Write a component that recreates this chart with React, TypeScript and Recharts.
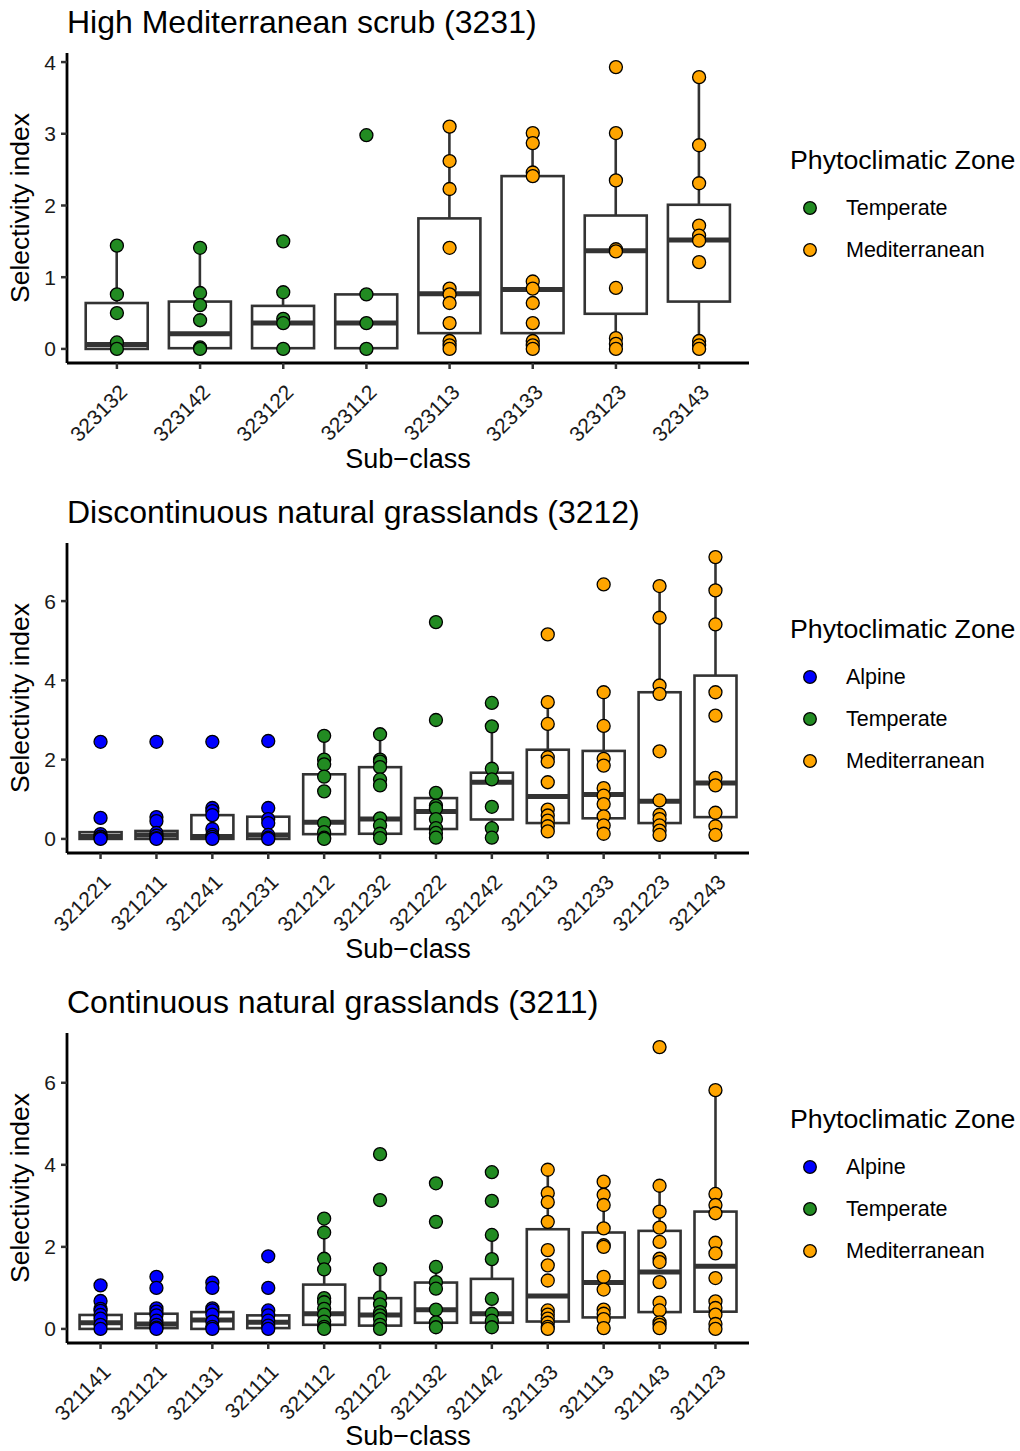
import React from 'react';
import { ComposedChart, Bar, Scatter, XAxis, YAxis, Legend } from 'recharts';

type Zone = 'Alpine' | 'Temperate' | 'Mediterranean';

const zoneColors: Record<Zone, string> = {
  Alpine: '#0000ff',
  Temperate: '#228b22',
  Mediterranean: '#ffa500',
};

// High Mediterranean scrub (3231)
const scrubClasses = ['323132', '323142', '323122', '323112', '323113', '323133', '323123', '323143'];
const scrubZones: Zone[] = ['Temperate', 'Temperate', 'Temperate', 'Temperate', 'Mediterranean', 'Mediterranean', 'Mediterranean', 'Mediterranean'];
const scrubLower = [0, 0, 0, 0, 0, 0, 0, 0];
const scrubQ1 = [0, 0.01, 0.01, 0.01, 0.22, 0.22, 0.49, 0.66];
const scrubMedian = [0.06, 0.21, 0.36, 0.36, 0.77, 0.83, 1.37, 1.52];
const scrubQ3 = [0.64, 0.66, 0.6, 0.76, 1.82, 2.41, 1.86, 2.01];
const scrubUpper = [1.44, 1.41, 0.79, 0.76, 3.1, 3.01, 3.01, 3.79];
const scrubValues: number[][] = [
  [1.44, 0.76, 0.5, 0.09, 0],
  [1.41, 0.78, 0.61, 0.4, 0.02, 0],
  [1.5, 0.79, 0.42, 0.36, 0],
  [2.98, 0.76, 0.36, 0],
  [3.1, 2.62, 2.23, 1.41, 0.84, 0.76, 0.64, 0.36, 0.11, 0.05, 0],
  [3.01, 2.87, 2.46, 2.41, 0.94, 0.84, 0.64, 0.36, 0.11, 0.05, 0],
  [3.93, 3.01, 2.35, 1.39, 1.36, 0.85, 0.15, 0.07, 0],
  [3.79, 2.84, 2.31, 1.72, 1.58, 1.51, 1.21, 0.11, 0.05, 0],
];

// Discontinuous natural grasslands (3212)
const discClasses = ['321221', '321211', '321241', '321231', '321212', '321232', '321222', '321242', '321213', '321233', '321223', '321243'];
const discZones: Zone[] = ['Alpine', 'Alpine', 'Alpine', 'Alpine', 'Temperate', 'Temperate', 'Temperate', 'Temperate', 'Mediterranean', 'Mediterranean', 'Mediterranean', 'Mediterranean'];
const discLower = [0, 0, 0, 0, 0, 0.02, 0.03, 0.03, 0.19, 0.13, 0.1, 0.1];
const discQ1 = [0, 0, 0, 0, 0.12, 0.13, 0.25, 0.49, 0.4, 0.52, 0.4, 0.55];
const discMedian = [0.06, 0.1, 0.06, 0.1, 0.42, 0.5, 0.69, 1.43, 1.07, 1.12, 0.95, 1.41];
const discQ3 = [0.17, 0.2, 0.6, 0.56, 1.63, 1.81, 1.03, 1.67, 2.25, 2.22, 3.7, 4.12];
const discUpper = [0.17, 0.45, 0.78, 0.78, 2.6, 2.64, 1.16, 2.84, 3.45, 3.7, 6.38, 7.11];
const discValues: number[][] = [
  [2.45, 0.53, 0.12, 0.06, 0.02, 0],
  [2.45, 0.55, 0.45, 0.15, 0.08, 0.02, 0],
  [2.45, 0.78, 0.7, 0.6, 0.25, 0.1, 0.05, 0],
  [2.47, 0.78, 0.5, 0.4, 0.1, 0.03, 0],
  [2.6, 2.0, 1.88, 1.57, 1.2, 0.4, 0.17, 0.03, 0],
  [2.64, 2.0, 1.95, 1.81, 1.5, 1.35, 0.52, 0.34, 0.13, 0.02],
  [5.47, 3.0, 1.16, 0.84, 0.77, 0.5, 0.27, 0.15, 0.03],
  [3.43, 2.84, 1.77, 1.5, 0.81, 0.27, 0.03],
  [5.16, 3.45, 2.9, 2.06, 1.95, 1.43, 0.74, 0.59, 0.46, 0.32, 0.19],
  [6.42, 3.7, 2.85, 2.02, 1.85, 1.28, 1.09, 0.88, 0.57, 0.34, 0.13],
  [6.38, 5.58, 3.87, 3.66, 2.21, 0.97, 0.61, 0.5, 0.34, 0.21, 0.1],
  [7.11, 6.27, 5.41, 3.7, 3.11, 1.54, 1.35, 0.66, 0.32, 0.1],
];

// Continuous natural grasslands (3211)
const contClasses = ['321141', '321121', '321131', '321111', '321112', '321122', '321132', '321142', '321133', '321113', '321143', '321123'];
const contZones: Zone[] = discZones;
const contLower = [0, 0, 0, 0, 0, 0, 0.04, 0.04, 0, 0.02, 0.02, 0];
const contQ1 = [0, 0.02, 0, 0.02, 0.1, 0.08, 0.15, 0.15, 0.18, 0.28, 0.41, 0.42];
const contMedian = [0.15, 0.12, 0.22, 0.16, 0.37, 0.34, 0.47, 0.37, 0.8, 1.13, 1.39, 1.53];
const contQ3 = [0.34, 0.37, 0.41, 0.33, 1.08, 0.75, 1.13, 1.22, 2.43, 2.35, 2.39, 2.86];
const contUpper = [0.68, 0.5, 0.5, 0.45, 2.35, 1.45, 1.51, 2.29, 3.88, 3.59, 3.49, 5.82];
const contValues: number[][] = [
  [1.06, 0.68, 0.49, 0.44, 0.34, 0.25, 0.1, 0],
  [1.27, 1.0, 0.5, 0.42, 0.33, 0.2, 0.1, 0.03, 0],
  [1.13, 1.0, 0.5, 0.45, 0.35, 0.18, 0.05, 0],
  [1.77, 1.0, 0.45, 0.33, 0.2, 0.08, 0],
  [2.69, 2.35, 1.71, 1.45, 0.75, 0.65, 0.49, 0.35, 0.18, 0.05, 0],
  [4.26, 3.14, 1.45, 0.77, 0.6, 0.41, 0.33, 0.24, 0.1, 0],
  [3.55, 2.61, 1.51, 1.14, 0.98, 0.47, 0.16, 0.04],
  [3.82, 3.12, 2.29, 1.7, 0.73, 0.37, 0.2, 0.04],
  [3.88, 3.31, 3.09, 2.61, 1.92, 1.55, 1.18, 0.45, 0.35, 0.25, 0.15, 0.05, 0],
  [3.59, 3.27, 3.02, 2.45, 2.04, 2.0, 1.27, 0.96, 0.47, 0.37, 0.24, 0.02],
  [6.87, 3.49, 2.86, 2.47, 2.12, 1.71, 1.63, 1.14, 0.64, 0.45, 0.16, 0.1, 0.02],
  [5.82, 3.29, 3.02, 2.82, 2.1, 1.84, 1.24, 0.67, 0.51, 0.35, 0.12, 0],
];

const FONT = "'Liberation Sans', Arial, Helvetica, sans-serif";
const INK = '#333333';
const CHART_W = 1020;
const PAGE_H = 1451;
const PANEL_H = 490;
const PLOT_LEFT = 67;
const PLOT_RIGHT = 749;
const PLOT_TOP = 53;
const PLOT_H = 310;

interface Panel {
  title: string;
  classes: string[];
  zones: Zone[];
  lower: number[];
  q1: number[];
  median: number[];
  q3: number[];
  upper: number[];
  values: number[][];
  ticks: number[];
}

const panels: Panel[] = [
  {
    title: 'High Mediterranean scrub (3231)',
    classes: scrubClasses, zones: scrubZones,
    lower: scrubLower, q1: scrubQ1, median: scrubMedian, q3: scrubQ3, upper: scrubUpper,
    values: scrubValues, ticks: [0, 1, 2, 3, 4],
  },
  {
    title: 'Discontinuous natural grasslands (3212)',
    classes: discClasses, zones: discZones,
    lower: discLower, q1: discQ1, median: discMedian, q3: discQ3, upper: discUpper,
    values: discValues, ticks: [0, 2, 4, 6],
  },
  {
    title: 'Continuous natural grasslands (3211)',
    classes: contClasses, zones: contZones,
    lower: contLower, q1: contQ1, median: contMedian, q3: contQ3, upper: contUpper,
    values: contValues, ticks: [0, 2, 4, 6],
  },
];

// boxplot drawn on top of a [lower, upper] range bar; inner stats are placed on the same linear scale
const BoxShape = (props: any) => {
  const { x, y, width, height, payload } = props;
  if (!payload || !Number.isFinite(y) || !Number.isFinite(height)) return null;
  const top = Math.min(y, y + height);
  const bottom = Math.max(y, y + height);
  const span = payload.hi - payload.lo;
  const toY = (v: number) => (span > 0 ? bottom - ((v - payload.lo) / span) * (bottom - top) : bottom);
  const cx = x + width / 2;
  const yQ1 = toY(payload.q1);
  const yQ3 = toY(payload.q3);
  const yMed = toY(payload.med);
  return (
    <g>
      <line x1={cx} x2={cx} y1={top} y2={yQ3} stroke={INK} strokeWidth={2.6} />
      <line x1={cx} x2={cx} y1={yQ1} y2={bottom} stroke={INK} strokeWidth={2.6} />
      <rect x={x} y={yQ3} width={width} height={Math.max(yQ1 - yQ3, 0)} fill="#ffffff" stroke={INK} strokeWidth={2.6} />
      <line x1={x} x2={x + width} y1={yMed} y2={yMed} stroke={INK} strokeWidth={5} />
    </g>
  );
};

const PointShape = (props: any) => {
  const { cx, cy, payload } = props;
  if (!Number.isFinite(cx) || !Number.isFinite(cy)) return null;
  return <circle cx={cx} cy={cy} r={6.5} fill={zoneColors[payload.zone as Zone]} stroke="#000000" strokeWidth={1.3} />;
};

const XTick = (props: any) => {
  const { x, y, payload } = props;
  const ax = x + 1;
  const ay = y + 12;
  return (
    <text x={ax} y={ay} dy="0.71em" textAnchor="end" transform={`rotate(-45 ${ax} ${ay})`} fontSize={21} fill="#1a1a1a" fontFamily={FONT}>
      {payload.value}
    </text>
  );
};

const makeXTitle = (gap: number) => (props: any) => {
  const vb = props.viewBox || { x: PLOT_LEFT, y: PLOT_TOP + PLOT_H, width: PLOT_RIGHT - PLOT_LEFT };
  return (
    <text x={vb.x + vb.width / 2} y={vb.y + gap} textAnchor="middle" fontSize={27} fill="#000000" fontFamily={FONT}>
      Sub−class
    </text>
  );
};

const YTitle = (props: any) => {
  const vb = props.viewBox || { y: PLOT_TOP, height: PLOT_H };
  const cy = vb.y + vb.height / 2;
  const bx = 29;
  return (
    <text x={bx} y={cy} textAnchor="middle" transform={`rotate(-90 ${bx} ${cy})`} fontSize={26.5} fill="#000000" fontFamily={FONT}>
      Selectivity index
    </text>
  );
};

const ZoneLegend = ({ zones }: { zones: Zone[] }) => (
  <div style={{ fontFamily: FONT, color: '#000' }}>
    <div style={{ fontSize: 26.7, lineHeight: '30px', height: 30, marginBottom: 12, whiteSpace: 'nowrap' }}>Phytoclimatic Zone</div>
    {zones.map((z) => (
      <div key={z} style={{ height: 42, display: 'flex', alignItems: 'center' }}>
        <svg width={40} height={42} style={{ flex: 'none', marginRight: 16 }}>
          <circle cx={20} cy={21} r={6.3} fill={zoneColors[z]} stroke="#000" strokeWidth={1.3} />
        </svg>
        <span style={{ fontSize: 21.5 }}>{z}</span>
      </div>
    ))}
  </div>
);

const BoxPanel = ({ panel, top, last }: { panel: Panel; top: number; last: boolean }) => {
  const n = panel.classes.length;
  const boxes = panel.classes.map((cls, i) => ({
    cls,
    zone: panel.zones[i],
    lo: panel.lower[i],
    q1: panel.q1[i],
    med: panel.median[i],
    q3: panel.q3[i],
    hi: panel.upper[i],
  }));
  const points = panel.classes.flatMap((cls, i) => panel.values[i].map((v) => ({ cls, v, zone: panel.zones[i] })));
  const maxV = Math.max(...panel.values.flat());
  const domain = [-0.05 * maxV, maxV * 1.05];
  // ggplot-style discrete expansion: 0.6 of a category step on each side
  const pad = ((PLOT_RIGHT - PLOT_LEFT) * 0.1) / (n + 0.2);
  const legendZones = Array.from(new Set(panel.zones));
  const legendTop = PLOT_TOP + PLOT_H / 2 - (42 + 42 * legendZones.length) / 2;
  const height = last ? PAGE_H - top : PANEL_H;
  // bottom panel runs into the page edge, so its axis title sits a little higher
  const XTitle = makeXTitle(last ? 102 : 105);

  return (
    <div style={{ position: 'absolute', left: 0, top, width: CHART_W, height }}>
      <div style={{ position: 'absolute', left: PLOT_LEFT, top: 7, fontSize: 32, lineHeight: '30px', fontFamily: FONT, color: '#000', whiteSpace: 'nowrap' }}>
        {panel.title}
      </div>
      <ComposedChart
        width={CHART_W}
        height={height}
        data={boxes}
        margin={{ top: PLOT_TOP, right: CHART_W - PLOT_RIGHT, bottom: 0, left: 0 }}
        barCategoryGap="12.5%"
      >
        <XAxis
          dataKey="cls"
          type="category"
          allowDuplicatedCategory={false}
          interval={0}
          padding={{ left: pad, right: pad }}
          height={height - PLOT_TOP - PLOT_H}
          tick={<XTick />}
          tickSize={6}
          tickLine={{ stroke: INK, strokeWidth: 2.5 }}
          axisLine={{ stroke: '#000', strokeWidth: 2.8 }}
          label={{ content: XTitle }}
        />
        <YAxis
          type="number"
          width={PLOT_LEFT}
          domain={domain}
          allowDataOverflow
          ticks={panel.ticks}
          tick={{ fontSize: 21, fill: '#1a1a1a', fontFamily: FONT }}
          tickSize={6}
          tickMargin={5}
          tickLine={{ stroke: INK, strokeWidth: 2.5 }}
          axisLine={{ stroke: '#000', strokeWidth: 2.8 }}
          label={{ content: YTitle }}
        />
        <Bar dataKey={(d: any) => [d.lo, d.hi]} shape={BoxShape} fill="none" isAnimationActive={false} />
        <Scatter data={points} dataKey="v" shape={PointShape} isAnimationActive={false} />
        <Legend
          layout="vertical"
          align="center"
          verticalAlign="middle"
          wrapperStyle={{ left: 790, top: legendTop, width: 230 }}
          content={() => <ZoneLegend zones={legendZones} />}
        />
      </ComposedChart>
    </div>
  );
};

export default function App() {
  return (
    <div style={{ position: 'absolute', left: 0, top: 0, width: CHART_W, height: PAGE_H, overflow: 'hidden', background: '#fff', fontFamily: FONT }}>
      {panels.map((p, k) => (
        <BoxPanel key={p.title} panel={p} top={k * PANEL_H} last={k === panels.length - 1} />
      ))}
    </div>
  );
}
